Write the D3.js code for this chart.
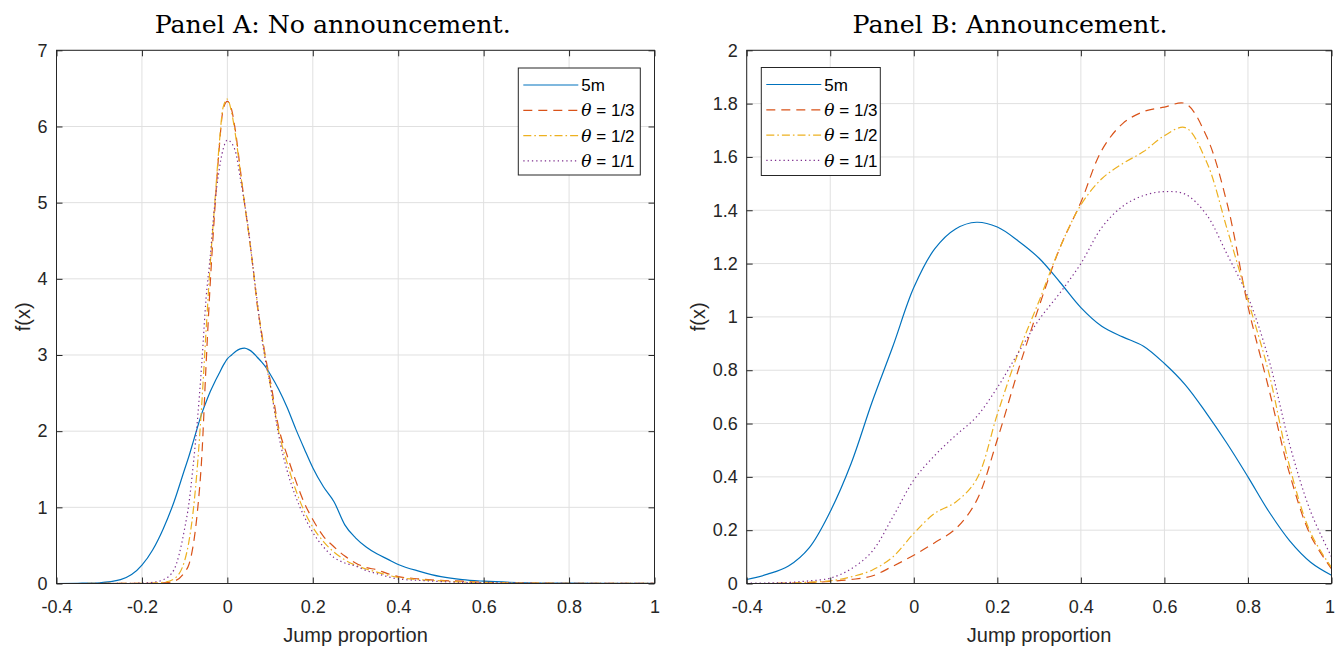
<!DOCTYPE html>
<html>
<head>
<meta charset="utf-8">
<script src="https://cdn.jsdelivr.net/npm/d3@7"></script>
<style>
  body { margin: 0; background: #fff; }
</style>
</head>
<body>
<svg id="chart" width="1335" height="649"></svg>
<script>
// ---- Panel A: no announcement ----
const xA = [-0.4,-0.35,-0.3,-0.25,-0.2,-0.175,-0.15,-0.125,-0.1,-0.09,-0.08,-0.07,-0.06,-0.05,-0.04,-0.03,-0.02,-0.01,0,
  0.01,0.02,0.03,0.04,0.05,0.06,0.07,0.08,0.09,0.1,0.12,0.14,0.16,0.18,0.2,0.225,0.25,0.275,0.3,0.325,0.35,0.375,0.4,
  0.45,0.5,0.55,0.6,0.7,0.8,0.9,1.0];
const fiveMinA = [0,0.003,0.01,0.05,0.24,0.44,0.72,1.07,1.50,1.67,1.86,2.05,2.23,2.38,2.52,2.64,2.75,2.86,2.95,
  3.0,3.05,3.08,3.09,3.07,3.03,2.97,2.91,2.84,2.75,2.55,2.31,2.03,1.77,1.52,1.27,1.07,0.77,0.60,0.48,0.39,0.32,0.25,
  0.16,0.09,0.05,0.03,0.01,0.004,0.002,0.001];
const thetaThirdA = [0,0,0,0.001,0.002,0.003,0.008,0.03,0.15,0.25,0.50,0.95,1.65,2.85,3.95,4.85,5.65,6.22,6.33,
  6.22,5.9,5.45,5.0,4.6,4.15,3.65,3.3,2.95,2.68,2.05,1.68,1.35,1.06,0.84,0.62,0.48,0.36,0.27,0.21,0.18,0.13,0.09,
  0.06,0.04,0.03,0.015,0.005,0.003,0.002,0.001];
const thetaHalfA = [0,0,0.001,0.001,0.002,0.006,0.015,0.06,0.30,0.55,0.95,1.55,2.35,3.3,4.2,4.95,5.7,6.25,6.36,
  6.18,5.85,5.42,5.0,4.6,4.15,3.68,3.28,2.92,2.62,2.0,1.58,1.23,0.95,0.74,0.55,0.41,0.31,0.24,0.19,0.15,0.11,0.08,
  0.05,0.035,0.02,0.012,0.005,0.003,0.002,0.001];
const thetaOneA = [0,0,0.001,0.002,0.005,0.015,0.05,0.18,0.72,1.05,1.55,2.15,2.88,3.73,4.3,4.95,5.4,5.7,5.82,
  5.78,5.65,5.33,5.0,4.62,4.15,3.7,3.25,2.9,2.62,1.95,1.48,1.14,0.88,0.67,0.48,0.34,0.27,0.23,0.17,0.13,0.09,0.06,
  0.04,0.025,0.015,0.01,0.004,0.002,0.001,0.001];

// ---- Panel B: announcement ----
const xB = [-0.4,-0.35,-0.3,-0.25,-0.2,-0.15,-0.1,-0.05,0,0.05,0.1,0.15,0.2,0.25,0.3,0.35,0.4,0.45,0.5,0.55,0.6,
  0.65,0.7,0.75,0.8,0.85,0.9,0.95,1.0];
const fiveMinB = [0.015,0.035,0.066,0.135,0.27,0.45,0.68,0.89,1.11,1.255,1.33,1.355,1.337,1.285,1.22,1.13,1.035,
  0.965,0.925,0.89,0.825,0.745,0.64,0.525,0.40,0.27,0.16,0.08,0.031];
const thetaThirdB = [0,0,0.001,0.003,0.008,0.015,0.028,0.065,0.106,0.153,0.205,0.31,0.54,0.80,1.04,1.26,1.43,
  1.625,1.725,1.77,1.787,1.80,1.68,1.426,1.04,0.73,0.41,0.18,0.055];
const thetaHalfB = [0,0,0.002,0.005,0.01,0.025,0.05,0.10,0.188,0.263,0.305,0.39,0.635,0.865,1.06,1.26,1.42,
  1.518,1.575,1.62,1.68,1.71,1.585,1.33,1.063,0.79,0.437,0.19,0.06];
const thetaOneB = [0.001,0.002,0.004,0.01,0.02,0.055,0.12,0.25,0.388,0.48,0.555,0.625,0.735,0.865,0.99,1.09,1.20,
  1.335,1.415,1.455,1.47,1.46,1.385,1.235,1.075,0.84,0.52,0.27,0.10];

// ---- Ticks and labels ----
const xTicks = [-0.4,-0.2,0,0.2,0.4,0.6,0.8,1];
const xTickLabels = ["-0.4","-0.2","0","0.2","0.4","0.6","0.8","1"];
const yTicksA = [0,1,2,3,4,5,6,7];
const yTickLabelsA = ["0","1","2","3","4","5","6","7"];
const yTicksB = [0,0.2,0.4,0.6,0.8,1,1.2,1.4,1.6,1.8,2];
const yTickLabelsB = ["0","0.2","0.4","0.6","0.8","1","1.2","1.4","1.6","1.8","2"];
const legendNames = ["5m","1/3","1/2","1/1"];

const seriesStyle = [
  { color: "#0072BD", dash: null },
  { color: "#D95319", dash: "9,6" },
  { color: "#EDB120", dash: "8,3,1.6,3" },
  { color: "#7E2F8E", dash: "1.3,3" }
];

const svg = d3.select("#chart");
svg.append("rect").attr("width", 1335).attr("height", 649).attr("fill", "#fff");

const sansFont = "'Liberation Sans', Arial, Helvetica, sans-serif";
const serifFont = "'DejaVu Serif', 'Liberation Serif', serif";
const axisColor = "#262626";
const gridColor = "#e0e0e0";

function drawPanel(cfg) {
  const g = svg.append("g");
  const x = d3.scaleLinear().domain([-0.4, 1]).range([cfg.left, cfg.right]);
  const y = d3.scaleLinear().domain([0, cfg.yMax]).range([cfg.bottom, cfg.top]);

  // grid
  const grid = g.append("g").attr("stroke", gridColor).attr("stroke-width", 1);
  grid.selectAll("line.v").data(xTicks).join("line")
    .attr("x1", d => x(d)).attr("x2", d => x(d))
    .attr("y1", cfg.top).attr("y2", cfg.bottom);
  grid.selectAll("line.h").data(cfg.yTicks).join("line")
    .attr("x1", cfg.left).attr("x2", cfg.right)
    .attr("y1", d => y(d)).attr("y2", d => y(d));

  // curves
  const clipId = "clip-" + cfg.id;
  svg.append("clipPath").attr("id", clipId).append("rect")
    .attr("x", cfg.left).attr("y", cfg.top)
    .attr("width", cfg.right - cfg.left).attr("height", cfg.bottom - cfg.top);
  const line = d3.line()
    .x((d, i) => x(cfg.xs[i]))
    .y(d => y(Math.max(0, d)))
    .curve(cfg.curve);
  const curves = g.append("g").attr("clip-path", `url(#${clipId})`);
  cfg.series.forEach((vals, k) => {
    curves.append("path")
      .attr("d", line(vals))
      .attr("fill", "none")
      .attr("stroke", seriesStyle[k].color)
      .attr("stroke-width", 1.2)
      .attr("stroke-dasharray", seriesStyle[k].dash);
  });

  // axes (inward ticks on all four sides)
  const styleAxis = sel => {
    sel.select(".domain").remove();
    sel.attr("color", axisColor)
      .attr("font-family", sansFont)
      .attr("font-size", 18);
    sel.selectAll("text").attr("fill", axisColor);
  };
  const bottomAxis = g.append("g").attr("transform", `translate(0,${cfg.bottom})`)
    .call(d3.axisBottom(x).tickValues(xTicks).tickFormat((d, i) => xTickLabels[i])
      .tickSizeInner(-6).tickSizeOuter(0).tickPadding(17))
    .call(styleAxis);
  if (cfg.nudgeLast) {
    bottomAxis.selectAll(".tick text").filter(d => d === 1).attr("dx", cfg.nudgeLast);
  }
  g.append("g").attr("transform", `translate(0,${cfg.top})`)
    .call(d3.axisTop(x).tickValues(xTicks).tickFormat("").tickSizeInner(-6).tickSizeOuter(0))
    .call(styleAxis);
  g.append("g").attr("transform", `translate(${cfg.left},0)`)
    .call(d3.axisLeft(y).tickValues(cfg.yTicks).tickFormat((d, i) => cfg.yTickLabels[i])
      .tickSizeInner(-6).tickSizeOuter(0).tickPadding(9))
    .call(styleAxis);
  g.append("g").attr("transform", `translate(${cfg.right},0)`)
    .call(d3.axisRight(y).tickValues(cfg.yTicks).tickFormat("").tickSizeInner(-6).tickSizeOuter(0))
    .call(styleAxis);

  g.append("rect")
    .attr("x", cfg.left).attr("y", cfg.top)
    .attr("width", cfg.right - cfg.left).attr("height", cfg.bottom - cfg.top)
    .attr("fill", "none").attr("stroke", axisColor).attr("stroke-width", 1);

  // axis titles
  g.append("text")
    .attr("x", (cfg.left + cfg.right) / 2).attr("y", 642)
    .attr("text-anchor", "middle")
    .attr("font-family", sansFont).attr("font-size", 20).attr("fill", axisColor)
    .text("Jump proportion");
  g.append("text")
    .attr("transform", `translate(${cfg.ylabelX},${(cfg.top + cfg.bottom) / 2}) rotate(-90)`)
    .attr("text-anchor", "middle").attr("dy", "0.35em")
    .attr("font-family", sansFont).attr("font-size", 20).attr("fill", axisColor)
    .text("f(x)");

  // panel title
  g.append("text")
    .attr("x", cfg.titleX).attr("y", 33)
    .attr("text-anchor", "middle")
    .attr("font-family", serifFont).attr("font-size", 24).attr("fill", "#000")
    .attr("textLength", cfg.titleLen).attr("lengthAdjust", "spacingAndGlyphs")
    .text(cfg.title);

  // legend
  const lg = g.append("g").attr("transform", `translate(${cfg.legendX},${cfg.legendY})`);
  lg.append("rect")
    .attr("width", cfg.legendW).attr("height", cfg.legendH)
    .attr("fill", "#fff").attr("stroke", axisColor).attr("stroke-width", 1);
  legendNames.forEach((name, k) => {
    const ry = 17 + k * 25.3;
    lg.append("line")
      .attr("x1", 5).attr("x2", 60).attr("y1", ry).attr("y2", ry)
      .attr("stroke", seriesStyle[k].color).attr("stroke-width", 1.2)
      .attr("stroke-dasharray", seriesStyle[k].dash);
    const t = lg.append("text")
      .attr("x", 63).attr("y", ry).attr("dy", "0.36em")
      .attr("font-family", sansFont).attr("font-size", 17).attr("fill", "#000");
    if (k === 0) {
      t.text(name);
    } else {
      t.append("tspan").attr("font-family", serifFont).attr("font-style", "italic").text("θ");
      t.append("tspan").text(" = " + name);
    }
  });
}

drawPanel({
  id: "a", left: 56.5, right: 654.5, top: 50.3, bottom: 583.5,
  yMax: 7, yTicks: yTicksA, yTickLabels: yTickLabelsA,
  xs: xA, series: [fiveMinA, thetaThirdA, thetaHalfA, thetaOneA],
  curve: d3.curveMonotoneX,
  title: "Panel A: No announcement.", titleX: 332.7, titleLen: 356,
  legendX: 518.3, legendY: 68, legendW: 122, legendH: 107, ylabelX: 23
});

drawPanel({
  id: "b", left: 746.7, right: 1331.5, top: 50.3, bottom: 583.5,
  yMax: 2, yTicks: yTicksB, yTickLabels: yTickLabelsB,
  xs: xB, series: [fiveMinB, thetaThirdB, thetaHalfB, thetaOneB],
  curve: d3.curveCatmullRom.alpha(0.5),
  title: "Panel B: Announcement.", titleX: 1010, titleLen: 315,
  legendX: 761.3, legendY: 67.5, legendW: 119, legendH: 108, ylabelX: 698,
  nudgeLast: -2
});
</script>
</body>
</html>
